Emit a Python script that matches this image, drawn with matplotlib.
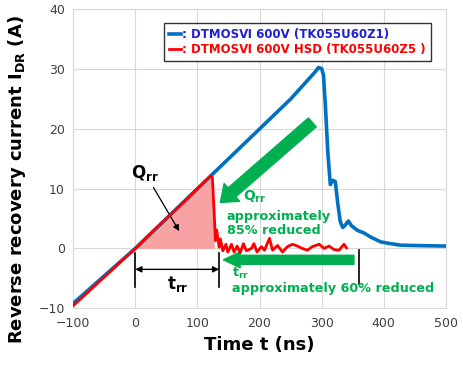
import numpy as np
import matplotlib.pyplot as plt

# blue: DTMOS VI 600V (TK055U60Z1)
t_blue = [-100, -50, 0, 50, 100, 150, 200, 250, 290, 295, 300, 303, 306, 310, 314, 318, 322,
          326, 330, 334, 338, 343, 348, 358, 368, 379, 395, 411, 427, 445, 470, 500]
i_blue = [-9.2, -4.6, 0.0, 5.0, 10.0, 15.0, 20.0, 25.0, 29.6, 30.3, 30.1, 29.0, 24.0, 16.0,
          10.7, 11.4, 11.2, 7.5, 4.5, 3.5, 3.9, 4.6, 3.8, 3.0, 2.6, 1.9, 1.1, 0.8, 0.55, 0.5, 0.45, 0.4]

# red: DTMOS VI 600V HSD (TK055U60Z5)
t_red = [-100, -50, 0, 50, 100, 121, 124, 127, 129, 131, 135, 137, 141, 146, 149, 155, 159,
         164, 169, 174, 179, 187, 191, 196, 203, 208, 216, 221, 229, 237, 245, 253, 261,
         269, 277, 285, 296, 304, 312, 320, 328, 336, 340]
i_red = [-9.6, -4.8, 0.0, 5.0, 10.0, 12.1, 12.0, 6.0, 1.3, 3.1, 0.2, 1.6, -0.4, 0.7, -0.6,
         0.7, -0.6, 0.4, -0.7, 0.8, -0.4, 0.0, 0.8, -0.6, 0.3, -0.3, 1.7, -0.3, 0.5, -0.6,
         0.3, 0.7, 0.4, 0.0, -0.3, 0.3, 0.7, 0.0, 0.4, -0.2, -0.3, 0.7, 0.1]

labels = [": DTMOS\u2165 600V (TK055U60Z1)", ": DTMOS\u2165 600V HSD (TK055U60Z5 )"]
x_ticks = [-100, 0, 100, 200, 300, 400, 500]
y_ticks = [-10, 0, 10, 20, 30, 40]

blue = '#0070c0'
red = '#ff0000'
green = '#00b050'

fig = plt.figure(figsize=(4.63, 3.8), dpi=100)
ax = fig.add_axes([0.158, 0.189, 0.805, 0.786])

t_r = np.array(t_red)
i_r = np.array(i_red)
mask = (t_r >= 0) & (t_r <= 127)
ax.fill_between(t_r[mask], i_r[mask], 0, color='#f7a3a3', lw=0, zorder=1)

lb, = ax.plot(t_blue, i_blue, color=blue, lw=2.6, zorder=3)
lr, = ax.plot(t_red, i_red, color=red, lw=2.0, zorder=4)

ax.set_xlim(-100, 500)
ax.set_ylim(-10, 40)
ax.set_xticks(x_ticks)
ax.set_yticks(y_ticks)
ax.tick_params(length=0, labelsize=9, colors='#404040', pad=6)
ax.grid(color='#d9d9d9', lw=0.8)
ax.set_axisbelow(True)
for s in ax.spines.values():
    s.set_color('#d9d9d9')

ax.set_xlabel('Time t (ns)', fontsize=13, fontweight='bold', labelpad=5)
ax.set_ylabel('Reverse recovery current I$_{\\mathbf{DR}}$ (A)', fontsize=13,
              fontweight='bold')
ax.yaxis.set_label_coords(-0.12, 0.43)

leg = ax.legend([lb, lr], labels, loc='upper left', bbox_to_anchor=(0.228, 0.975),
                prop={'weight': 'bold', 'size': 8.5}, handlelength=1.0, handletextpad=0.1,
                frameon=True, fancybox=False, edgecolor='black', borderpad=0.45,
                labelspacing=0.15)
leg.get_frame().set_linewidth(1.0)
leg.get_texts()[0].set_color('#2020d0')
leg.get_texts()[1].set_color(red)

# Qrr label with arrow into the shaded area
ax.text(16, 12.7, 'Q$_{\\mathbf{rr}}$', fontsize=12, fontweight='bold', ha='center', va='center')
ax.annotate('', xy=(73, 2.5), xytext=(27, 10.6),
            arrowprops=dict(arrowstyle='-|>', color='black', lw=0.9, mutation_scale=9))

# trr dimension
ax.plot([0, 0], [-0.8, -6.5], color='black', lw=1.2)
ax.plot([135, 135], [-0.8, -6.5], color='black', lw=1.2)
ax.annotate('', xy=(0, -3.5), xytext=(135, -3.5),
            arrowprops=dict(arrowstyle='<|-|>', color='black', lw=1.0, mutation_scale=9,
                            shrinkA=0, shrinkB=0))
ax.text(68, -5.9, 't$_{\\mathbf{rr}}$', fontsize=12, fontweight='bold', ha='center', va='center')
ax.plot([360, 360], [-0.3, -5.9], color='black', lw=1.2)

# green arrows
ax.annotate('', xy=(137, 7.7), xytext=(285, 21.1),
            arrowprops=dict(arrowstyle='simple,head_width=1.7,head_length=1.1,tail_width=0.85',
                            color=green, mutation_scale=10, shrinkA=0, shrinkB=0))
ax.annotate('', xy=(142, -1.9), xytext=(352, -1.9),
            arrowprops=dict(arrowstyle='simple,head_width=1.15,head_length=1.2,tail_width=0.65',
                            color=green, mutation_scale=10, shrinkA=0, shrinkB=0))

ax.text(173, 8.6, 'Q$_{\\mathbf{rr}}$', color=green, fontsize=10, fontweight='bold',
        ha='left', va='center')
ax.text(147, 6.4, 'approximately\n85% reduced', color=green,
        fontsize=9.2, fontweight='bold', ha='left', va='top', linespacing=1.05)
ax.text(155, -3.0, 't$_{\\mathbf{rr}}$\napproximately 60% reduced', color=green,
        fontsize=9.2, fontweight='bold', ha='left', va='top', linespacing=1.05)

fig.savefig('out.png', dpi=100)
